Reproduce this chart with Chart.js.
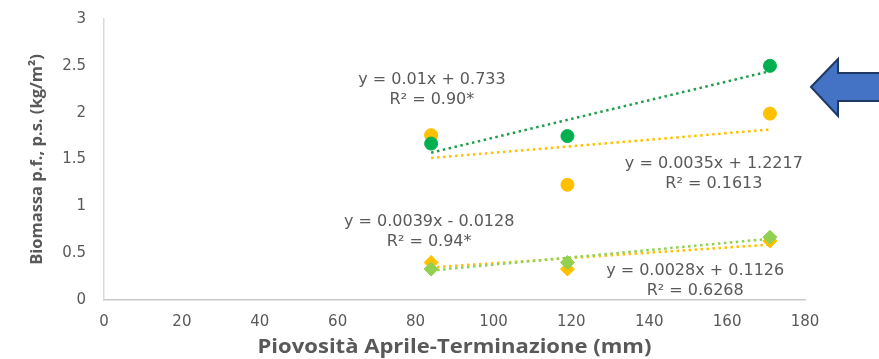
<!DOCTYPE html>
<html>
<head>
<meta charset="utf-8">
<script src="https://cdn.jsdelivr.net/npm/chart.js@4.4.1/dist/chart.umd.min.js"></script>
<style>
  html, body { margin: 0; padding: 0; background: #fff; }
  #wrap { width: 879px; height: 359px; }
</style>
</head>
<body>
<div id="wrap"><canvas id="chart"></canvas></div>
<script>
// rainfall (mm) of the three sites
const rainfall = [84, 119, 171];

// biomass values
const greenCircle = [1.67, 1.75, 2.50];
const orangeCircle = [1.76, 1.23, 1.99];
const greenDiamond = [0.33, 0.40, 0.67];
const orangeDiamond = [0.40, 0.33, 0.63];

// trendline equations as printed on the chart
const trendSlope = [0.01, 0.0035, 0.0039, 0.0028];
const trendIntercept = [0.733, 1.2217, -0.0128, 0.1126];
const eqTexts = ["y = 0.01x + 0.733", "y = 0.0035x + 1.2217", "y = 0.0039x - 0.0128", "y = 0.0028x + 0.1126"];
const r2Texts = ["R² = 0.90*", "R² = 0.1613", "R² = 0.94*", "R² = 0.6268"];

const xTicks = [0, 20, 40, 60, 80, 100, 120, 140, 160, 180];
const yTicks = [0, 0.5, 1, 1.5, 2, 2.5, 3];
const xTitle = "Piovosità Aprile-Terminazione (mm)";
const yTitle = "Biomassa p.f., p.s. (kg/m²)";

// where the equation boxes sit (data units)
const labelAnchor = [[84.2, 2.35], [156.6, 1.45], [83.5, 0.83], [151.8, 0.31]];

const GREEN = "#00B050";
const ORANGE = "#FFC000";
const LIGHTGREEN = "#92D050";
const TEXT = "#595959";

function pts(ys) {
    return rainfall.map((x, i) => ({ x: x, y: ys[i] }));
}

function trend(k) {
    const x0 = Math.min(...rainfall), x1 = Math.max(...rainfall);
    return [x0, x1].map(x => ({ x: x, y: trendSlope[k] * x + trendIntercept[k] }));
}

function trendSet(k, color) {
    return {
        type: 'line',
        data: trend(k),
        borderColor: color,
        borderWidth: 2.5,
        borderDash: [2.5, 3.5],
        pointRadius: 0,
        fill: false,
        order: 2
    };
}

// equation labels, x title (a bit wide, like the original) and the blue arrow
const extras = {
    id: 'extras',
    afterDraw(chart) {
        const ctx = chart.ctx;
        const xs = chart.scales.x, ys = chart.scales.y;
        ctx.save();
        ctx.fillStyle = TEXT;
        ctx.font = "16px 'DejaVu Sans'";
        ctx.textAlign = "center";
        ctx.textBaseline = "middle";
        labelAnchor.forEach((a, i) => {
            const px = xs.getPixelForValue(a[0]);
            const py = ys.getPixelForValue(a[1]);
            ctx.fillText(eqTexts[i], px, py);
            ctx.fillText(r2Texts[i], px, py + 20);
        });

        ctx.save();
        ctx.translate((chart.chartArea.left + chart.chartArea.right) / 2, 348);
        ctx.scale(1.16, 1);
        ctx.font = "bold 19px 'Open Sans'";
        ctx.fillText(xTitle, 0, 0);
        ctx.restore();

        // arrow pointing left
        ctx.beginPath();
        ctx.moveTo(811, 87);
        ctx.lineTo(838, 59);
        ctx.lineTo(838, 73);
        ctx.lineTo(882, 73);
        ctx.lineTo(882, 101);
        ctx.lineTo(838, 101);
        ctx.lineTo(838, 116);
        ctx.closePath();
        ctx.fillStyle = "#4472C4";
        ctx.fill();
        ctx.lineWidth = 2;
        ctx.strokeStyle = "#1F3864";
        ctx.stroke();
        ctx.restore();
    }
};

new Chart(document.getElementById("chart"), {
    type: 'scatter',
    data: {
        datasets: [
            { data: pts(greenCircle), backgroundColor: GREEN, borderColor: GREEN, pointRadius: 6.5, pointStyle: 'circle', order: 1 },
            { data: pts(orangeCircle), backgroundColor: ORANGE, borderColor: ORANGE, pointRadius: 6.5, pointStyle: 'circle', order: 1 },
            { data: pts(greenDiamond), backgroundColor: LIGHTGREEN, borderColor: LIGHTGREEN, pointRadius: 7, pointStyle: 'rectRot', order: 1 },
            { data: pts(orangeDiamond), backgroundColor: ORANGE, borderColor: ORANGE, pointRadius: 7, pointStyle: 'rectRot', order: 1 },
            trendSet(0, "#1E9E4A"),
            trendSet(1, ORANGE),
            trendSet(2, LIGHTGREEN),
            trendSet(3, ORANGE)
        ]
    },
    options: {
        responsive: true,
        maintainAspectRatio: false,
        animation: false,
        layout: { padding: { top: 19, right: 74, bottom: 0, left: 0 } },
        plugins: {
            legend: { display: false },
            tooltip: { enabled: false }
        },
        scales: {
            x: {
                type: 'linear',
                min: 0,
                max: 180,
                afterBuildTicks: s => { s.ticks = xTicks.map(v => ({ value: v })); },
                afterFit: s => { s.height = 59; s.paddingTop = 0; s.paddingBottom = 0; },
                grid: { display: false, drawTicks: false },
                border: { display: true, color: "#c9c9c9", width: 1.5 },
                ticks: { color: TEXT, font: { family: "DejaVu Sans", size: 15 }, padding: 13, maxRotation: 0, callback: v => String(v) },
                title: { display: false }
            },
            y: {
                min: 0,
                max: 3,
                afterBuildTicks: s => { s.ticks = yTicks.map(v => ({ value: v })); },
                afterFit: s => { s.width = 104; s.paddingTop = 0; s.paddingBottom = 0; },
                grid: { display: false, drawTicks: false },
                border: { display: true, color: "#d9d9d9", width: 1.5 },
                ticks: { color: TEXT, font: { family: "DejaVu Sans", size: 15 }, padding: 18, callback: v => String(v) },
                title: {
                    display: true,
                    text: yTitle,
                    color: TEXT,
                    font: { family: "Open Sans", size: 16.5, weight: 'bold' },
                    padding: { top: 27, bottom: 0 }
                }
            }
        }
    },
    plugins: [extras]
});
</script>
</body>
</html>
